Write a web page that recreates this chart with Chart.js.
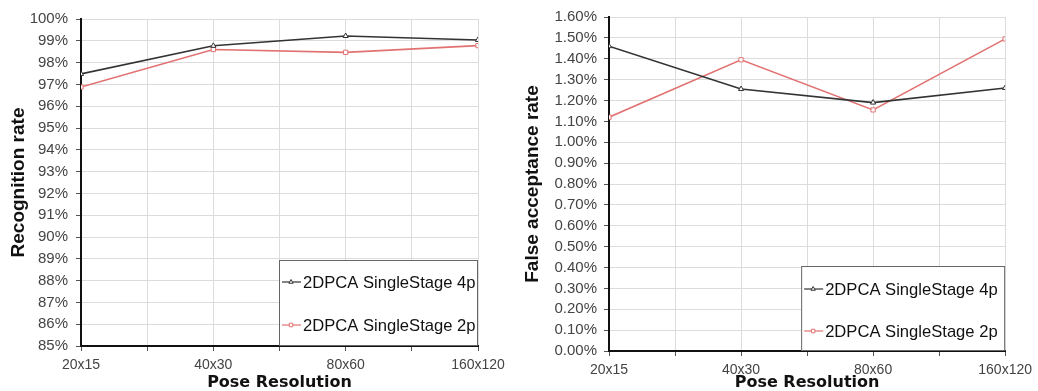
<!DOCTYPE html>
<html>
<head>
<meta charset="utf-8">
<script src="https://cdn.jsdelivr.net/npm/chart.js@4"></script>
<style>
  html, body { margin: 0; padding: 0; background: #fff; }
  #wrap { display: flex; width: 1038px; height: 391px; }
  .box { width: 519px; height: 391px; position: relative; }
</style>
</head>
<body>
<div id="wrap">
  <div class="box"><canvas id="chartRecognition"></canvas></div>
  <div class="box"><canvas id="chartFalseAccept"></canvas></div>
</div>
<script>
const resolutions = ['20x15', '40x30', '80x60', '160x120']
const seriesNames = ['2DPCA SingleStage 4p', '2DPCA SingleStage 2p']

// recognition rate, %
const recognition4p = [97.48, 98.77, 99.22, 99.04]
const recognition2p = [96.88, 98.60, 98.47, 98.78]

// false acceptance rate, %
const falseAccept4p = [1.46, 1.255, 1.19, 1.26]
const falseAccept2p = [1.12, 1.395, 1.155, 1.495]

const blackLine = '#333'
const redLine = '#e27272'

Chart.defaults.font.family = "'Liberation Sans', Arial, sans-serif"
Chart.defaults.animation = false

const toPoints = values => values.map((v, i) => ({x: i, y: v}))

// legend drawn inside the plot, bottom right, like the original
const insideLegend = {
    id: 'insideLegend',
    afterDraw(chart, args, opts) {
        const {ctx, chartArea} = chart
        const w = opts.width, h = opts.height
        const x0 = chartArea.right - w, y0 = chartArea.bottom - h
        ctx.save()
        ctx.fillStyle = '#fff'
        ctx.fillRect(x0, y0, w, h)
        ctx.strokeStyle = '#666'
        ctx.lineWidth = 1
        ctx.strokeRect(x0 + 0.5, y0 + 0.5, w - 1, h - 1)
        chart.data.datasets.forEach((ds, i) => {
            const y = y0 + opts.rows[i]
            ctx.strokeStyle = ds.borderColor
            ctx.lineWidth = 1.2
            ctx.beginPath()
            ctx.moveTo(x0 + 3, y)
            ctx.lineTo(x0 + 22, y)
            ctx.stroke()
            ctx.fillStyle = '#fff'
            ctx.strokeStyle = ds.borderColor
            ctx.lineWidth = 1
            Chart.helpers.drawPoint(ctx, {pointStyle: ds.pointStyle, radius: 2.5, borderWidth: 1, rotation: 0}, x0 + 12, y)
            ctx.fillStyle = '#111'
            ctx.font = "16.6px 'Liberation Sans', Arial, sans-serif"
            ctx.textBaseline = 'middle'
            ctx.fillText(ds.label, x0 + 24, y + 1)
        })
        ctx.restore()
    }
}

function makeDatasets(first, second) {
    return [{
        label: seriesNames[0],
        data: toPoints(first),
        borderColor: blackLine,
        backgroundColor: '#fff',
        borderWidth: 1.6,
        pointStyle: 'triangle',
        pointRadius: 3,
        pointBorderWidth: 1
    }, {
        label: seriesNames[1],
        data: toPoints(second),
        borderColor: redLine,
        backgroundColor: '#fff',
        borderWidth: 1.6,
        pointStyle: 'rect',
        pointRadius: 3,
        pointBorderWidth: 1
    }]
}

function xScale(axisHeight) {
    return {
        type: 'linear',
        min: 0, max: 3,
        border: {color: '#111', width: 2},
        grid: {color: '#dcdcdc', tickColor: '#555', tickLength: 5},
        ticks: {
            stepSize: 0.5,
            padding: 6,
            color: '#444',
            font: {size: 14},
            autoSkip: false,
            maxRotation: 0,
            callback: v => Number.isInteger(v) ? resolutions[v] : ''
        },
        title: {
            display: true,
            text: 'Pose Resolution',
            color: '#111',
            font: {family: "'DejaVu Sans', Verdana, sans-serif", size: 16, weight: 'bold'},
            padding: {top: 0, bottom: -1}
        },
        afterFit: s => { s.height = axisHeight }
    }
}

function yTitle(text, padTop) {
    return {
        display: true,
        text,
        color: '#111',
        font: {family: "'Liberation Sans', Arial, sans-serif", size: 19, weight: 'bold'},
        padding: {top: padTop, bottom: 0}
    }
}

//CHART 1
function renderRecognition() {
    const data = {datasets: makeDatasets(recognition4p, recognition2p)}
    const options = {
        responsive: false,
        layout: {padding: {top: 19, right: 41, left: 0, bottom: 0}},
        plugins: {
            legend: {display: false},
            tooltip: {enabled: false},
            insideLegend: {width: 199, height: 86, rows: [22, 65]}
        },
        scales: {
            x: xScale(45),
            y: {
                min: 85, max: 100,
                border: {color: '#111', width: 2},
                grid: {color: '#dcdcdc', tickColor: '#555', tickLength: 5},
                ticks: {stepSize: 1, padding: 8, autoSkip: false, color: '#444', font: {size: 15}, callback: v => v + '%'},
                title: yTitle('Recognition rate', 7),
                afterFit: s => { s.width = 81 }
            }
        }
    }
    new Chart('chartRecognition', {type: 'line', data, options, plugins: [insideLegend]})
}

//CHART 2
function renderFalseAccept() {
    const data = {datasets: makeDatasets(falseAccept4p, falseAccept2p)}
    const options = {
        responsive: false,
        layout: {padding: {top: 17, right: 31, left: 0, bottom: 0}},
        plugins: {
            legend: {display: false},
            tooltip: {enabled: false},
            insideLegend: {width: 204, height: 85, rows: [23, 65]}
        },
        scales: {
            x: xScale(40),
            y: {
                min: 0, max: 1.6,
                border: {color: '#111', width: 2},
                grid: {color: '#dcdcdc', tickColor: '#555', tickLength: 5},
                ticks: {stepSize: 0.1, padding: 7, autoSkip: false, color: '#444', font: {size: 15}, callback: v => v.toFixed(2) + '%'},
                title: yTitle('False acceptance rate', 2),
                afterFit: s => { s.width = 90 }
            }
        }
    }
    new Chart('chartFalseAccept', {type: 'line', data, options, plugins: [insideLegend]})
}

document.querySelectorAll('canvas').forEach(c => { c.width = 519; c.height = 391 })
renderRecognition()
renderFalseAccept()
</script>
</body>
</html>
